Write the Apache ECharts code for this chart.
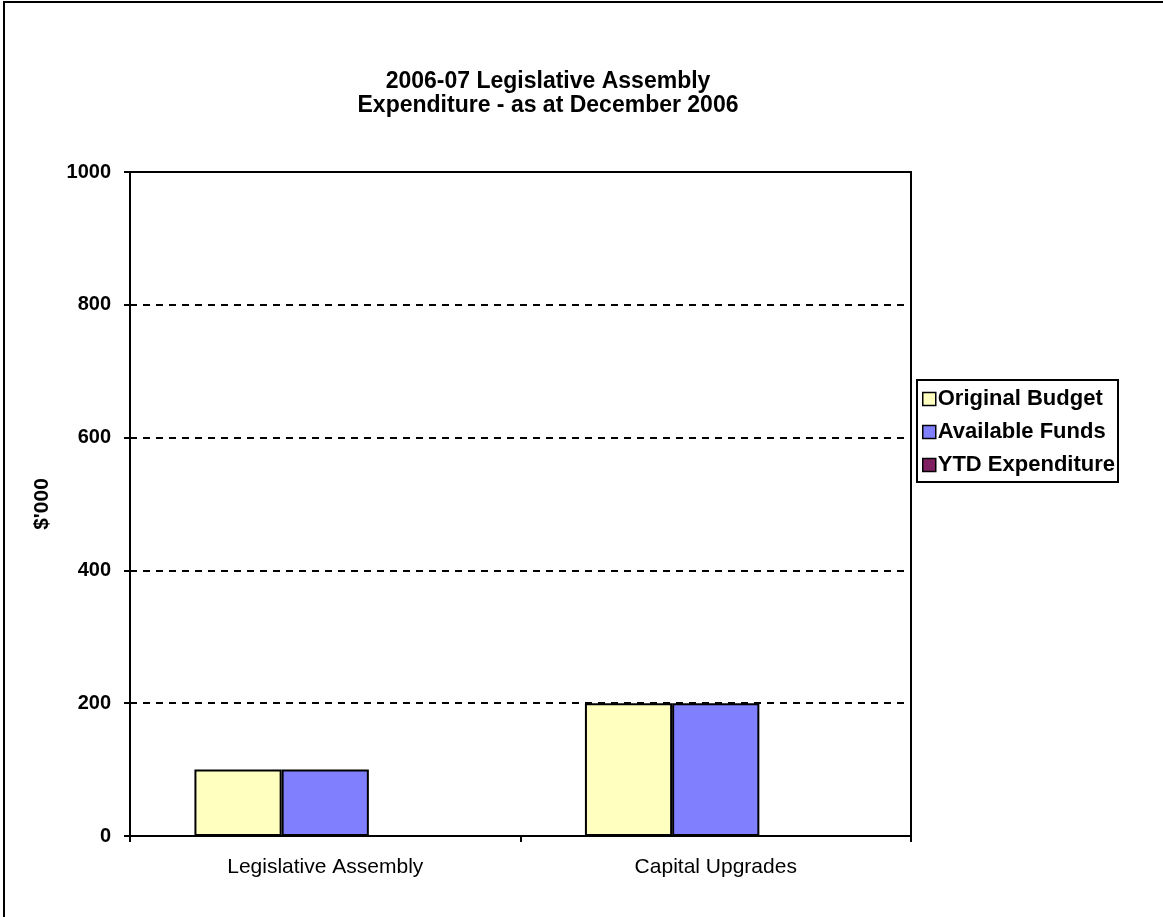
<!DOCTYPE html>
<html>
<head>
<meta charset="utf-8">
<script src="https://cdn.jsdelivr.net/npm/echarts@6/dist/echarts.min.js"></script>
<style>
  html, body { margin: 0; padding: 0; background: #fff; }
  #chart { width: 1163px; height: 917px; }
</style>
</head>
<body>
<div id="chart"></div>
<script>
// Expenditure by program, in $'000
const categories = ['Legislative Assembly', 'Capital Upgrades'];
const originalBudget = [100, 200];
const availableFunds = [100, 200];
const ytdExpenditure = [0, 0];
const yTicks = { min: 0, max: 1000, interval: 200 };

const FONT = '"Liberation Sans", Arial, sans-serif';

const chart = echarts.init(document.getElementById('chart'), null, { renderer: 'canvas' });

function barSeries(name, data, color) {
  return {
    name: name,
    type: 'bar',
    data: data,
    barGap: '0%',
    barCategoryGap: '33%',
    itemStyle: { color: color, borderColor: '#000', borderWidth: 2 },
    emphasis: { disabled: true }
  };
}

chart.setOption({
  animation: false,
  backgroundColor: '#fff',
  textStyle: { fontFamily: FONT },
  title: {
    text: '2006-07 Legislative Assembly\nExpenditure - as at December 2006',
    left: 543,
    top: 65,
    textAlign: 'center',
    textStyle: { fontFamily: FONT, fontSize: 23, fontWeight: 'bold', color: '#000', lineHeight: 24 }
  },
  legend: {
    orient: 'vertical',
    left: 917,
    top: 380,
    padding: [8, 3, 6, 5],
    itemWidth: 13,
    itemHeight: 13,
    itemGap: 11,
    icon: 'rect',
    borderColor: '#000',
    borderWidth: 2,
    itemStyle: { borderColor: '#000', borderWidth: 1.5 },
    textStyle: { fontFamily: FONT, fontSize: 22, fontWeight: 'bold', color: '#000', padding: [0, 0, 0, -3] },
    data: ['Original Budget', 'Available Funds', 'YTD Expenditure']
  },
  grid: {
    left: 130,
    right: 252,
    top: 172,
    bottom: 81,
    show: true,
    borderColor: '#000',
    borderWidth: 2,
    backgroundColor: 'transparent'
  },
  xAxis: {
    type: 'category',
    data: categories,
    axisLine: { lineStyle: { color: '#000', width: 2 } },
    axisTick: { show: true, length: 6, lineStyle: { color: '#000', width: 2 } },
    axisLabel: { fontFamily: FONT, fontSize: 21, color: '#000', margin: 21 }
  },
  yAxis: {
    type: 'value',
    min: yTicks.min,
    max: yTicks.max,
    interval: yTicks.interval,
    name: "$'000",
    nameLocation: 'middle',
    nameGap: 77,
    nameTextStyle: { fontFamily: FONT, fontSize: 21, fontWeight: 'bold', color: '#000' },
    axisLine: { show: true, lineStyle: { color: '#000', width: 2 } },
    axisTick: { show: true, length: 6, lineStyle: { color: '#000', width: 2 } },
    axisLabel: {
      fontFamily: FONT, fontSize: 20, fontWeight: 'bold', color: '#000', margin: 19,
      formatter: function (v) { return String(v); }
    },
    splitLine: { show: true, lineStyle: { color: '#000', width: 2, type: [7, 6] } }
  },
  graphic: [
    {
      type: 'rect',
      shape: { x: 4, y: 2, width: 1200, height: 1000 },
      style: { fill: 'none', stroke: '#000', lineWidth: 2 },
      silent: true,
      z: 100
    }
  ],
  series: [
    barSeries('Original Budget', originalBudget, '#FFFFC0'),
    barSeries('Available Funds', availableFunds, '#8080FF'),
    barSeries('YTD Expenditure', ytdExpenditure, '#802060')
  ]
});
</script>
</body>
</html>
